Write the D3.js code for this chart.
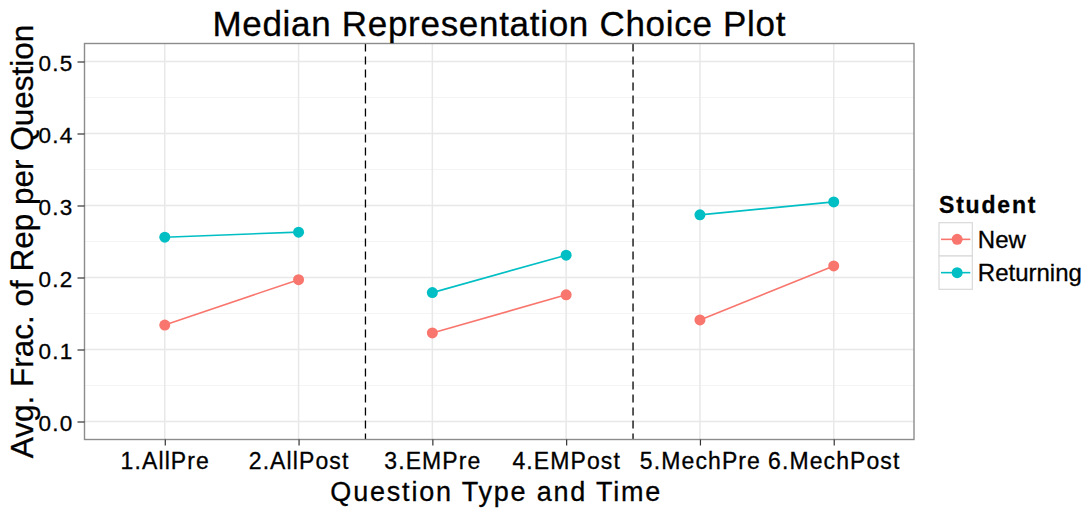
<!DOCTYPE html>
<html>
<head>
<meta charset="utf-8">
<script src="https://cdn.jsdelivr.net/npm/d3@7"></script>
<style>
  html, body { margin: 0; padding: 0; background: #fff; }
  svg { display: block; font-family: "Liberation Sans", Arial, sans-serif; }
  svg text { stroke: #000; stroke-width: 0.3px; }
</style>
</head>
<body>
<svg id="chart" width="1091" height="510"></svg>
<script>
// ---- data ----
const categories = ["1.AllPre", "2.AllPost", "3.EMPre", "4.EMPost", "5.MechPre", "6.MechPost"];
const pairs = [["1.AllPre", "2.AllPost"], ["3.EMPre", "4.EMPost"], ["5.MechPre", "6.MechPost"]];
const separatorsAfter = ["2.AllPost", "4.EMPost"];
const seriesNames = ["New", "Returning"];
const newValues = [0.134, 0.197, 0.123, 0.176, 0.141, 0.216];
const returningValues = [0.256, 0.263, 0.179, 0.231, 0.287, 0.305];
const yTicks = [0.0, 0.1, 0.2, 0.3, 0.4, 0.5];
const yMinorTicks = [0.05, 0.15, 0.25, 0.35, 0.45];
const colors = ["#F8766D", "#00BFC4"];

const seriesValues = [newValues, returningValues];

// ---- layout ----
const svg = d3.select("#chart");
const plot = { left: 84.5, right: 914, top: 43.5, bottom: 439.5 };

const x = d3.scalePoint().domain(categories).range([plot.left, plot.right]).padding(0.6);
const y = d3.scaleLinear().domain([-0.025, 0.525]).range([plot.bottom, plot.top]);

// panel background
svg.append("rect")
  .attr("x", plot.left).attr("y", plot.top)
  .attr("width", plot.right - plot.left).attr("height", plot.bottom - plot.top)
  .attr("fill", "#fff");

// minor grid
svg.append("g").selectAll("line").data(yMinorTicks).join("line")
  .attr("x1", plot.left).attr("x2", plot.right)
  .attr("y1", d => y(d)).attr("y2", d => y(d))
  .attr("stroke", "#f4f4f4").attr("stroke-width", 1);

// major grid
svg.append("g").selectAll("line").data(yTicks).join("line")
  .attr("x1", plot.left).attr("x2", plot.right)
  .attr("y1", d => y(d)).attr("y2", d => y(d))
  .attr("stroke", "#e8e8e8").attr("stroke-width", 1.5);
svg.append("g").selectAll("line").data(categories).join("line")
  .attr("x1", d => x(d)).attr("x2", d => x(d))
  .attr("y1", plot.top).attr("y2", plot.bottom)
  .attr("stroke", "#e8e8e8").attr("stroke-width", 1.5);

// dashed separators
svg.append("g").selectAll("line").data(separatorsAfter).join("line")
  .attr("x1", d => x(d) + x.step() / 2).attr("x2", d => x(d) + x.step() / 2)
  .attr("y1", plot.top).attr("y2", plot.bottom)
  .attr("stroke", "#000").attr("stroke-width", 1.3)
  .attr("stroke-dasharray", "8,5");

// lines & points
seriesValues.forEach((vals, si) => {
  const g = svg.append("g");
  pairs.forEach(p => {
    const i0 = categories.indexOf(p[0]), i1 = categories.indexOf(p[1]);
    g.append("line")
      .attr("x1", x(p[0])).attr("y1", y(vals[i0]))
      .attr("x2", x(p[1])).attr("y2", y(vals[i1]))
      .attr("stroke", colors[si]).attr("stroke-width", 1.6);
  });
  g.selectAll("circle").data(vals).join("circle")
    .attr("cx", (d, i) => x(categories[i]))
    .attr("cy", d => y(d))
    .attr("r", 5.5)
    .attr("fill", colors[si]);
});

// panel border
svg.append("rect")
  .attr("x", plot.left).attr("y", plot.top)
  .attr("width", plot.right - plot.left).attr("height", plot.bottom - plot.top)
  .attr("fill", "none").attr("stroke", "#8c8c8c").attr("stroke-width", 1.4);

// y axis
const yAxis = d3.axisLeft(y).tickValues(yTicks).tickFormat(d3.format(".1f")).tickSize(7).tickPadding(4);
const gy = svg.append("g").attr("transform", `translate(${plot.left},0)`).call(yAxis);
gy.select(".domain").remove();
gy.selectAll(".tick line").attr("stroke", "#333").attr("stroke-width", 1.2);
gy.selectAll(".tick text")
  .attr("font-family", "Liberation Sans, Arial, sans-serif")
  .attr("font-size", 22.5).attr("fill", "#000")
  .attr("letter-spacing", 1.2).attr("dy", "0.38em");

// x axis
const xAxis = d3.axisBottom(x).tickSize(6).tickPadding(7);
const gx = svg.append("g").attr("transform", `translate(0,${plot.bottom})`).call(xAxis);
gx.select(".domain").remove();
gx.selectAll(".tick line").attr("stroke", "#333").attr("stroke-width", 1.2);
gx.selectAll(".tick text")
  .attr("font-family", "Liberation Sans, Arial, sans-serif")
  .attr("font-size", 23).attr("fill", "#000")
  .attr("letter-spacing", 1.1).attr("dy", "0.71em");

// title
svg.append("text")
  .attr("x", (plot.left + plot.right) / 2).attr("y", 36)
  .attr("text-anchor", "middle").attr("font-size", 35).attr("letter-spacing", 0.7)
  .attr("fill", "#000")
  .text("Median Representation Choice Plot");

// axis titles
svg.append("text")
  .attr("x", (plot.left + plot.right) / 2 - 3).attr("y", 500.5)
  .attr("text-anchor", "middle").attr("font-size", 27).attr("letter-spacing", 1.8)
  .attr("fill", "#000")
  .text("Question Type and Time");

svg.append("text")
  .attr("transform", `translate(33,${(plot.top + plot.bottom) / 2}) rotate(-90)`)
  .attr("text-anchor", "middle").attr("font-size", 31.5)
  .attr("fill", "#000")
  .text("Avg. Frac. of Rep per Question");

// legend
const leg = svg.append("g").attr("transform", "translate(939,0)");
leg.append("text")
  .attr("x", 0).attr("y", 213.3)
  .attr("font-size", 23).attr("font-weight", "bold").attr("letter-spacing", 1.8)
  .attr("fill", "#000")
  .text("Student");
const keySize = 33.3;
seriesNames.forEach((name, i) => {
  const top = 222.7 + i * keySize;
  leg.append("rect")
    .attr("x", 0).attr("y", top).attr("width", keySize).attr("height", keySize)
    .attr("fill", "#fff").attr("stroke", "#d9d9d9").attr("stroke-width", 1.2);
  leg.append("line")
    .attr("x1", 2).attr("x2", keySize - 2)
    .attr("y1", top + keySize / 2).attr("y2", top + keySize / 2)
    .attr("stroke", colors[i]).attr("stroke-width", 1.6);
  leg.append("circle")
    .attr("cx", keySize / 2 + 1.5).attr("cy", top + keySize / 2).attr("r", 5.5)
    .attr("fill", colors[i]);
  leg.append("text")
    .attr("x", keySize + 5.5).attr("y", top + keySize / 2 + 8.5)
    .attr("font-size", 24).attr("fill", "#000")
    .text(name);
});
</script>
</body>
</html>
